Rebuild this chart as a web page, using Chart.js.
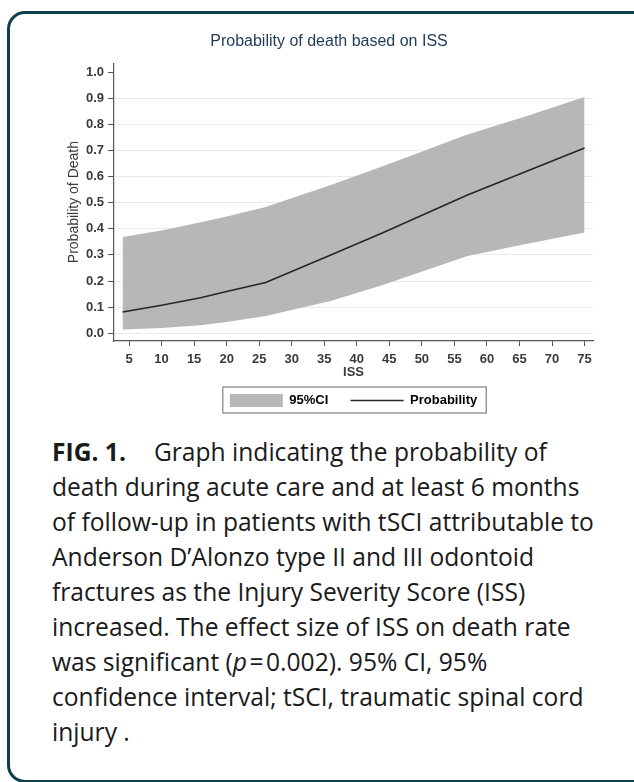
<!DOCTYPE html>
<html>
<head>
<meta charset="utf-8">
<script src="https://cdn.jsdelivr.net/npm/chart.js@4.4.1/dist/chart.umd.min.js"></script>
<style>
  html, body { margin: 0; padding: 0; background: #fff; }
  body { width: 634px; height: 782px; position: relative; overflow: hidden; }
  .frame {
    position: absolute; left: 7px; top: 11px; width: 700px; height: 766px;
    border: 3px solid #0e4050; border-radius: 18px;
  }
  .chart-box { position: absolute; left: 45px; top: 26px; width: 556px; height: 391px; }
  .caption {
    position: absolute; left: 52px; top: 434px; width: 580px;
    font-family: "Open Sans", sans-serif; font-size: 24.6px; line-height: 35px;
    color: #1a1a1a; white-space: nowrap;
  }
  .caption b { font-weight: 700; margin-right: 28px; }
</style>
</head>
<body>
<div class="frame"></div>
<div class="chart-box"><canvas id="deathChart"></canvas></div>
<div class="caption">
  <b>FIG. 1.</b>Graph indicating the probability of<br>
  death during acute care and at least 6 months<br>
  of follow-up in patients with tSCI attributable to<br>
  Anderson D’Alonzo type II and III odontoid<br>
  fractures as the Injury Severity Score (ISS)<br>
  increased. The effect size of ISS on death rate<br>
  was significant (<i>p</i>&#8202;=&#8202;0.002). 95% CI, 95%<br>
  confidence interval; tSCI, traumatic spinal cord<br>
  injury .
</div>
<script>
// values
const issValues = [4, 10, 16, 20, 26, 36, 44, 57, 66, 75]
const probability = [0.081, 0.107, 0.136, 0.16, 0.194, 0.30, 0.385, 0.53, 0.62, 0.71]
const upperCI = [0.369, 0.394, 0.425, 0.447, 0.484, 0.568, 0.64, 0.762, 0.832, 0.905]
const lowerCI = [0.014, 0.02, 0.03, 0.043, 0.066, 0.123, 0.185, 0.296, 0.342, 0.386]
const xTicks = [5, 10, 15, 20, 25, 30, 35, 40, 45, 50, 55, 60, 65, 70, 75]
const yTicks = [0, 0.1, 0.2, 0.3, 0.4, 0.5, 0.6, 0.7, 0.8, 0.9, 1.0]

const bandColor = "#b7b7b7"
const lineColor = "#262626"
const axisColor = "#555"
const textColor = "#3a3a3a"
const font = "Liberation Sans, Arial"

const toPoints = (ys) => ys.map((y, i) => ({ x: issValues[i], y }))

// box drawn around the legend, like Stata does
const legendFrame = {
  id: "legendFrame",
  afterDraw(chart) {
    const boxes = chart.legend.legendHitBoxes
    if (!boxes || !boxes.length) return
    const left = Math.min(...boxes.map((b) => b.left)) - 7
    const right = Math.max(...boxes.map((b) => b.left + b.width)) + 9
    const top = boxes[0].top - 7
    const bottom = boxes[0].top + boxes[0].height + 6
    const ctx = chart.ctx
    ctx.save()
    ctx.strokeStyle = "#8a8a8a"
    ctx.lineWidth = 1.3
    ctx.strokeRect(left, top, right - left, bottom - top)
    ctx.restore()
  },
}

new Chart(document.getElementById("deathChart"), {
  type: "line",
  data: {
    datasets: [
      {
        label: "Probability",
        data: toPoints(probability),
        borderColor: lineColor,
        borderWidth: 1.6,
        pointRadius: 0,
        fill: false,
      },
      {
        label: "95%CI",
        data: toPoints(upperCI),
        borderWidth: 0,
        borderColor: bandColor,
        backgroundColor: bandColor,
        pointRadius: 0,
        fill: "+1",
      },
      {
        label: "lower",
        data: toPoints(lowerCI),
        borderWidth: 0,
        borderColor: bandColor,
        pointRadius: 0,
        fill: false,
      },
    ],
  },
  options: {
    responsive: true,
    maintainAspectRatio: false,
    animation: false,
    layout: { padding: { left: 20, right: 8, top: 0, bottom: 0 } },
    plugins: {
      tooltip: { enabled: false },
      title: {
        display: true,
        text: "Probability of death based on ISS",
        color: "#1f3a56",
        font: { family: font, size: 16, weight: "normal", lineHeight: 1.2 },
        padding: { top: 6, bottom: 12 },
      },
      legend: {
        position: "bottom",
        fullSize: false,
        labels: {
          usePointStyle: true,
          pointStyleWidth: 53,
          boxHeight: 13,
          padding: 15,
          color: textColor,
          font: { family: font, size: 13, weight: "bold" },
          generateLabels: () => [
            { text: "95%CI  ", fillStyle: bandColor, strokeStyle: bandColor, lineWidth: 0, pointStyle: "rect", datasetIndex: 1 },
            { text: "Probability", fillStyle: "rgba(0,0,0,0)", strokeStyle: lineColor, lineWidth: 1.3, pointStyle: "line", datasetIndex: 0 },
          ],
        },
      },
    },
    scales: {
      x: {
        type: "linear",
        min: 2.7,
        max: 76.3,
        afterBuildTicks: (scale) => { scale.ticks = xTicks.map((v) => ({ value: v })) },
        grid: { drawOnChartArea: false, drawTicks: true, tickLength: 5, tickColor: axisColor },
        border: { display: true, color: axisColor, width: 1.2 },
        ticks: {
          color: textColor,
          padding: 7,
          maxRotation: 0,
          font: { family: font, size: 13, weight: "bold", lineHeight: 1 },
        },
        title: {
          display: true,
          text: "ISS",
          color: textColor,
          font: { family: font, size: 13, weight: "bold", lineHeight: 1 },
          padding: { top: -7, bottom: 0 },
        },
      },
      y: {
        min: -0.03,
        max: 1.035,
        afterBuildTicks: (scale) => { scale.ticks = yTicks.map((v) => ({ value: v })) },
        grid: {
          color: (c) => (c.tick && c.tick.value >= 1 ? "rgba(0,0,0,0)" : "#e4eeef"),
          drawTicks: true,
          tickLength: 6,
          tickColor: axisColor,
        },
        border: { display: true, color: axisColor, width: 1.2 },
        ticks: {
          color: textColor,
          padding: 4,
          callback: (v) => v.toFixed(1),
          font: { family: font, size: 13, weight: "bold", lineHeight: 1 },
        },
        title: {
          display: true,
          text: "Probability of Death",
          color: textColor,
          font: { family: font, size: 14, lineHeight: 1 },
          padding: { top: 2, bottom: 1 },
        },
      },
    },
  },
  plugins: [legendFrame],
})
</script>
</body>
</html>
